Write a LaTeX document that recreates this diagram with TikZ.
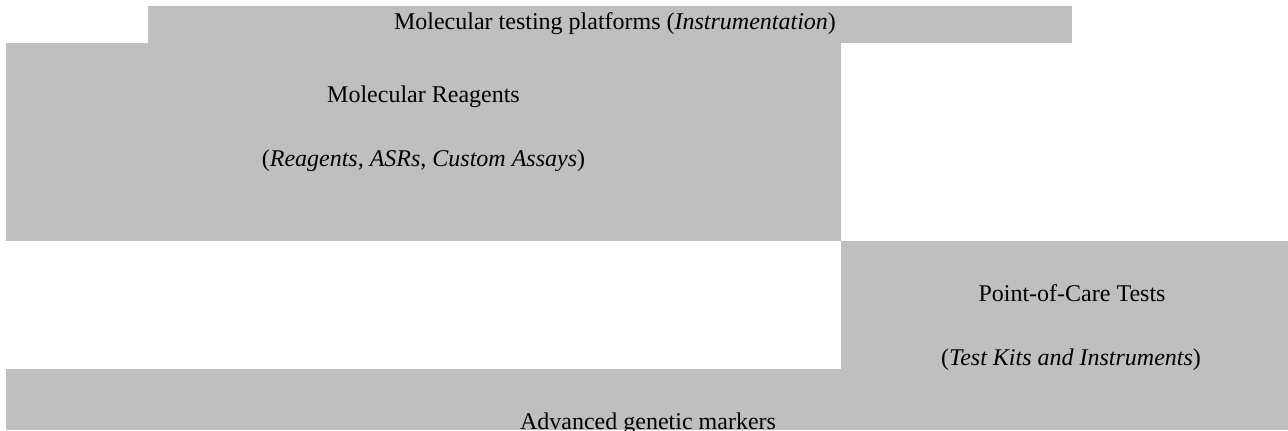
\documentclass[tikz,border=0pt]{standalone}
\usepackage{fontspec}
\setmainfont{Liberation Serif}
\definecolor{bandgray}{HTML}{BFBFBF}
\tikzset{
  band/.style={fill=bandgray},
  label/.style={anchor=base,inner sep=0pt,font=\fontsize{12}{14}\selectfont}
}
\begin{document}
\begin{tikzpicture}[x=0.5pt,y=-0.5pt]
   \useasboundingbox (0,0) rectangle (1288,430);
   \fill[band] (148,6) rectangle (1072,43);
   \fill[band] (6,43) rectangle (841,241);
   \fill[band] (841,241) rectangle (1288,369);
   \fill[band] (6,369) rectangle (1288,430);
   \node[label] (platforms) at (615,29) {Molecular testing platforms (\textit{Instrumentation})};
   \node[label] (reagents) at (423.5,102) {Molecular Reagents};
   \node[label] (reagentsub) at (423.5,166) {(\textit{Reagents, ASRs}, \textit{Custom Assays})};
   \node[label] (poc) at (1072,301) {Point-of-Care Tests};
   \node[label] (pocsub) at (1071,365) {(\textit{Test Kits and Instruments})};
   \node[label] (markers) at (648,429) {Advanced genetic markers};
\end{tikzpicture}
\end{document}
